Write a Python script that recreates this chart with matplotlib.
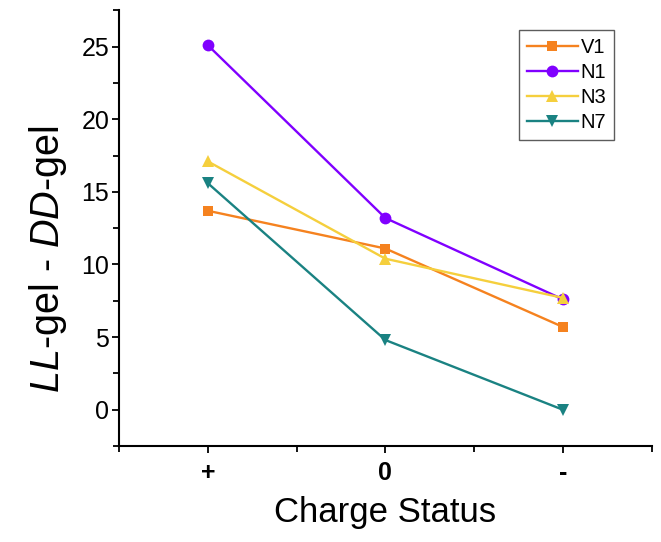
import matplotlib
matplotlib.use("Agg")
import matplotlib.pyplot as plt
import numpy as np

categories = ["+", "0", "-"]
series_names = ["V1", "N1", "N3", "N7"]
V1 = [13.7, 11.1, 5.7]
N1 = [25.1, 13.2, 7.6]
N3 = [17.1, 10.4, 7.7]
N7 = [15.6, 4.8, 0.0]
yticks = [0, 5, 10, 15, 20, 25]

plt.rcParams['font.family'] = ['Liberation Sans', 'DejaVu Sans']
plt.rcParams['mathtext.fontset'] = 'custom'
plt.rcParams['mathtext.it'] = 'Liberation Sans:italic'
plt.rcParams['mathtext.rm'] = 'Liberation Sans'

fig = plt.figure(figsize=(6.61, 5.42), dpi=100)
ax = fig.add_axes([0.18, 0.177, 0.806, 0.804])

x = np.arange(len(categories))
styles = [
    (V1, "V1", "#F5821F", "s", 7.5),
    (N1, "N1", "#8000FF", "o", 8.5),
    (N3, "N3", "#F5CF3D", "^", 9),
    (N7, "N7", "#1A8282", "v", 9),
]
for vals, name, col, mk, ms in styles:
    ax.plot(x, vals, color=col, marker=mk, markersize=ms, linewidth=1.7,
            label=name, markeredgewidth=0)

ax.set_xlim(-0.5, 2.5)
ax.set_ylim(-2.5, 27.5)
ax.set_xticks(x)
ax.set_xticklabels(categories, fontweight='bold', fontsize=18)
ax.set_xticks([-0.5, 0.5, 1.5, 2.5], minor=True)
ax.set_yticks(yticks)
ax.set_yticks([-2.5, 2.5, 7.5, 12.5, 17.5, 22.5, 27.5], minor=True)
ax.tick_params(axis='y', labelsize=18, pad=2)
ax.tick_params(which='both', direction='out', width=1.3, length=5)
ax.tick_params(axis='x', pad=6)
ax.tick_params(which='minor', length=4)

for s in ['top', 'right']:
    ax.spines[s].set_visible(False)
for s in ['left', 'bottom']:
    ax.spines[s].set_linewidth(1.5)

ax.set_xlabel("Charge Status", fontsize=25, labelpad=8)
ax.set_ylabel(r"$\mathit{LL}$-gel - $\mathit{DD}$-gel", fontsize=28.5)
ax.yaxis.set_label_coords(-0.093, 0.43)

leg = ax.legend(loc='upper right', bbox_to_anchor=(0.93, 0.955), fontsize=14.5,
                frameon=True, fancybox=False, edgecolor='#333333',
                handlelength=2.5, borderpad=0.4, labelspacing=0.3,
                handletextpad=0.15, borderaxespad=0)
leg.get_frame().set_linewidth(1.0)

fig.savefig("out.png", dpi=100)
